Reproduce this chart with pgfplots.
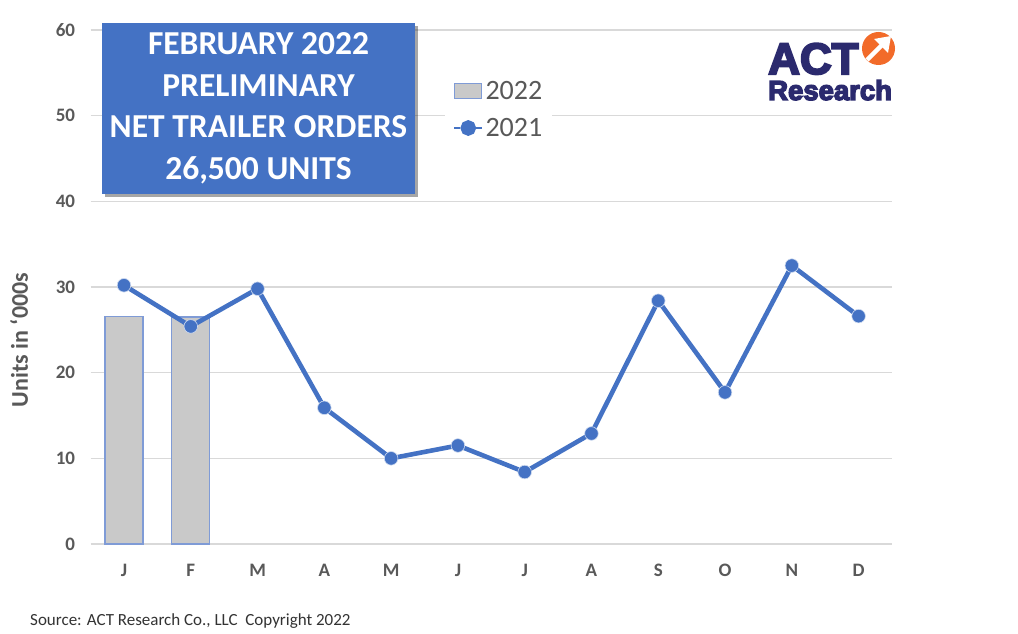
\documentclass[border=0pt]{standalone}
\usepackage{fontspec}
\setmainfont{Carlito}
\newfontfamily\logofont{Liberation Sans}
\usepackage{pgfplots}
\pgfplotsset{compat=1.18}
\usetikzlibrary{shadows,arrows.meta}
\definecolor{actblue}{HTML}{4472C4}
\definecolor{bargray}{HTML}{C9C9C9}
\definecolor{barblue}{HTML}{7F9BD6}
\definecolor{gridgray}{HTML}{D9D9D9}
\definecolor{labelgray}{HTML}{595959}
\definecolor{actnavy}{HTML}{2B2A6E}
\definecolor{actorange}{HTML}{F26B2A}
\newcommand\heavy[2]{\special{pdf:literal direct 2 Tr #1 w 0.169 0.165 0.431 RG}#2\special{pdf:literal direct 0 Tr}}
\begin{document}
\begin{tikzpicture}
\path[use as bounding box, fill=white] (0,0) rectangle (1018pt,633pt);
\begin{axis}[
  at={(90.6pt,89pt)}, anchor=south west,
  scale only axis, width=801.4pt, height=514pt,
  xmin=-0.5, xmax=11.5, ymin=0, ymax=60,
  ytick={0,10,...,60},
  xtick={0,...,11},
  xticklabels={J,F,M,A,M,J,J,A,S,O,N,D},
  ymajorgrids,
  grid style={color=gridgray, line width=1.3pt},
  axis line style={draw=none},
  major tick length=0pt,
  /pgf/number format/assume math mode=true,
  tick label style={font=\fontsize{19}{22}\selectfont\bfseries, text=labelgray},
  yticklabel style={xshift=-12pt},
  xticklabel style={yshift=-17pt},
  ylabel={Units in ‘000s},
  ylabel style={at={(axis description cs:-0.0893,0.397)}, anchor=center,
    font=\fontsize{24}{28}\selectfont\bfseries, text=labelgray},
  legend style={at={(axis description cs:0.442,0.908)}, anchor=north west,
    draw=none, fill=white, font=\fontsize{28}{30}\selectfont, text=labelgray,
    row sep=13pt, inner xsep=8pt, inner ysep=2pt},
  legend cell align=left,
]
\addplot[ybar, bar width=38pt, bar shift=0pt, fill=bargray, draw=barblue, line width=1.2pt,
  legend image code/.code={\draw[fill=bargray, draw=barblue, line width=1pt] (0pt,-7pt) rectangle (27pt,8pt);}]
  coordinates {(0,26.6) (1,26.5)};
\addlegendentry{2022}
\addplot[actblue, line width=4.6pt, mark=*, mark size=6.8pt,
  mark options={fill=actblue, draw=white!75!actblue, line width=0.6pt},
  legend image code/.code={
    \draw[actblue, line width=2.5pt] (0pt,0pt) -- (6pt,0pt);
    \draw[actblue, line width=2.5pt] (22pt,0pt) -- (28pt,0pt);
    \fill[actblue] (14pt,0pt) circle (5.5pt);}]
  coordinates {(0,30.2) (1,25.4) (2,29.8) (3,15.9) (4,10.0) (5,11.5)
               (6,8.4) (7,12.9) (8,28.4) (9,17.7) (10,32.5) (11,26.6)};
\addlegendentry{2021}
\end{axis}
% title box
\node[fill=actblue, minimum width=313pt, minimum height=171pt, text=white,
  align=center, font=\fontsize{33.5}{41.5}\selectfont\bfseries, inner sep=0pt,
  drop shadow={shadow xshift=3pt, shadow yshift=-3pt, opacity=0.35, fill=black}]
  at (258.5pt,524.5pt) {FEBRUARY 2022\\PRELIMINARY\\NET TRAILER ORDERS\\26,500 UNITS};
% logo
\node[anchor=base west, inner sep=0pt, text=actnavy, font=\logofont\fontsize{44}{44}\selectfont\bfseries]
  at (768pt,559pt) {\heavy{2.0}{ACT}};
\node[anchor=base west, inner sep=0pt, text=actnavy, font=\logofont\fontsize{27.5}{28}\selectfont\bfseries]
  at (768pt,533pt) {\heavy{1.4}{Research}};
\fill[actorange] (878.5pt,584.5pt) circle (16.5pt);
\draw[white, line width=4.5pt] (867pt,573pt) -- (884pt,590pt);
\fill[white] (891pt,597pt) -- (874pt,594pt) -- (888pt,580pt) -- cycle;
% source
\node[anchor=base west, inner sep=0pt, text=black!80, font=\fontsize{17}{19}\selectfont]
  at (30pt,8pt) {Source: ACT Research Co., LLC\ \ Copyright 2022};
\end{tikzpicture}
\end{document}
